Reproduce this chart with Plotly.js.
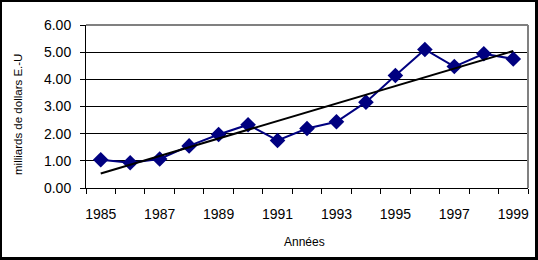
<!DOCTYPE html>
<html>
<head>
<meta charset="utf-8">
<script src="https://cdn.plot.ly/plotly-3.0.1.min.js"></script>
<style>
html,body{margin:0;padding:0;background:#fff;}
#wrap{position:relative;width:538px;height:260px;}
#chart{width:538px;height:260px;}
#frame{position:absolute;left:0;top:0;width:538px;height:260px;box-sizing:border-box;border-left:2px solid #000;border-top:2px solid #000;border-right:3px solid #000;border-bottom:3px solid #000;pointer-events:none;}
</style>
</head>
<body>
<div id="wrap"><div id="chart"></div><div id="frame"></div></div>
<script>
var years = [1985,1986,1987,1988,1989,1990,1991,1992,1993,1994,1995,1996,1997,1998,1999];
var values = [1.04,0.93,1.07,1.55,1.97,2.33,1.75,2.19,2.44,3.16,4.14,5.10,4.47,4.94,4.75];
var labelYears = [1985,1987,1989,1991,1993,1995,1997,1999];
var yTicks = [0,1,2,3,4,5,6];

// linear trend (least squares) as drawn by the spreadsheet's trendline
var n = years.length, mx = 0, my = 0;
for (var i = 0; i < n; i++) { mx += years[i]; my += values[i]; }
mx /= n; my /= n;
var sxy = 0, sxx = 0;
for (var i = 0; i < n; i++) { sxy += (years[i]-mx)*(values[i]-my); sxx += (years[i]-mx)*(years[i]-mx); }
var slope = sxy/sxx, icpt = my - slope*mx;
var trendX = [years[0], years[n-1]];
var trendY = trendX.map(function(x){return icpt + slope*x;});

var boundaries = [];
for (var b = years[0]-0.5; b <= years[n-1]+0.5; b += 1) boundaries.push(b);

var font = "Arial, 'Liberation Sans', sans-serif";
var data = [
  {x: years, y: values, type: 'scatter', mode: 'lines+markers',
   line: {color: '#000080', width: 2},
   marker: {symbol: 'diamond', size: 12, color: '#000080'},
   hoverinfo: 'skip'},
  {x: trendX, y: trendY, type: 'scatter', mode: 'lines',
   line: {color: '#000000', width: 2}, hoverinfo: 'skip'},
  {x: labelYears, y: labelYears.map(function(){return null;}), xaxis: 'x2', type: 'scatter', mode: 'markers', showlegend: false, hoverinfo: 'skip'}
];
var layout = {
  width: 538, height: 260,
  margin: {l: 86, r: 10, t: 25, b: 72},
  paper_bgcolor: '#fff', plot_bgcolor: '#fff',
  showlegend: false,
  font: {family: font, color: '#000', size: 14},
  xaxis: {range: [years[0]-0.5, years[n-1]+0.5], tickmode: 'array', tickvals: boundaries,
          ticktext: boundaries.map(function(){return '';}), ticks: 'outside', ticklen: 5,
          tickcolor: '#000', tickwidth: 1, showgrid: false, zeroline: false,
          showline: true, linecolor: '#000', linewidth: 1},
  xaxis2: {overlaying: 'x', matches: 'x', side: 'bottom', tickmode: 'array', tickvals: labelYears,
           ticktext: labelYears.map(String), ticks: 'outside', ticklen: 5, tickcolor: 'rgba(0,0,0,0)',
           ticklabelstandoff: 8,
           showgrid: false, zeroline: false, showline: false, tickfont: {size: 14}},
  yaxis: {range: [0, 6], tickmode: 'array', tickvals: yTicks,
          ticktext: yTicks.map(function(v){return v.toFixed(2);}), ticks: 'outside', ticklen: 5,
          tickcolor: '#000', showgrid: true, gridcolor: '#000', gridwidth: 1, zeroline: false,
          showline: true, linecolor: '#000', linewidth: 1, ticklabelstandoff: 6},
  annotations: [
    {text: 'Années', xref: 'paper', yref: 'paper', x: 0.495, y: (188 - 241.5) / 163, xanchor: 'center', yanchor: 'middle',
     showarrow: false, font: {size: 12}},
    {text: 'milliards de dollars E.-U', xref: 'paper', yref: 'paper', x: (18 - 86) / 442, y: (188 - 115) / 163,
     xanchor: 'center', yanchor: 'middle', textangle: -90, showarrow: false, font: {size: 11.5}}
  ],
  shapes: [
    {type: 'line', xref: 'paper', yref: 'paper', x0: 0, x1: 1, y0: 1, y1: 1, line: {color: '#808080', width: 2}},
    {type: 'line', xref: 'paper', yref: 'paper', x0: 1, x1: 1, y0: 0, y1: 1, line: {color: '#808080', width: 2}}
  ]
};
Plotly.newPlot('chart', data, layout, {staticPlot: true, displayModeBar: false});
</script>
</body>
</html>
